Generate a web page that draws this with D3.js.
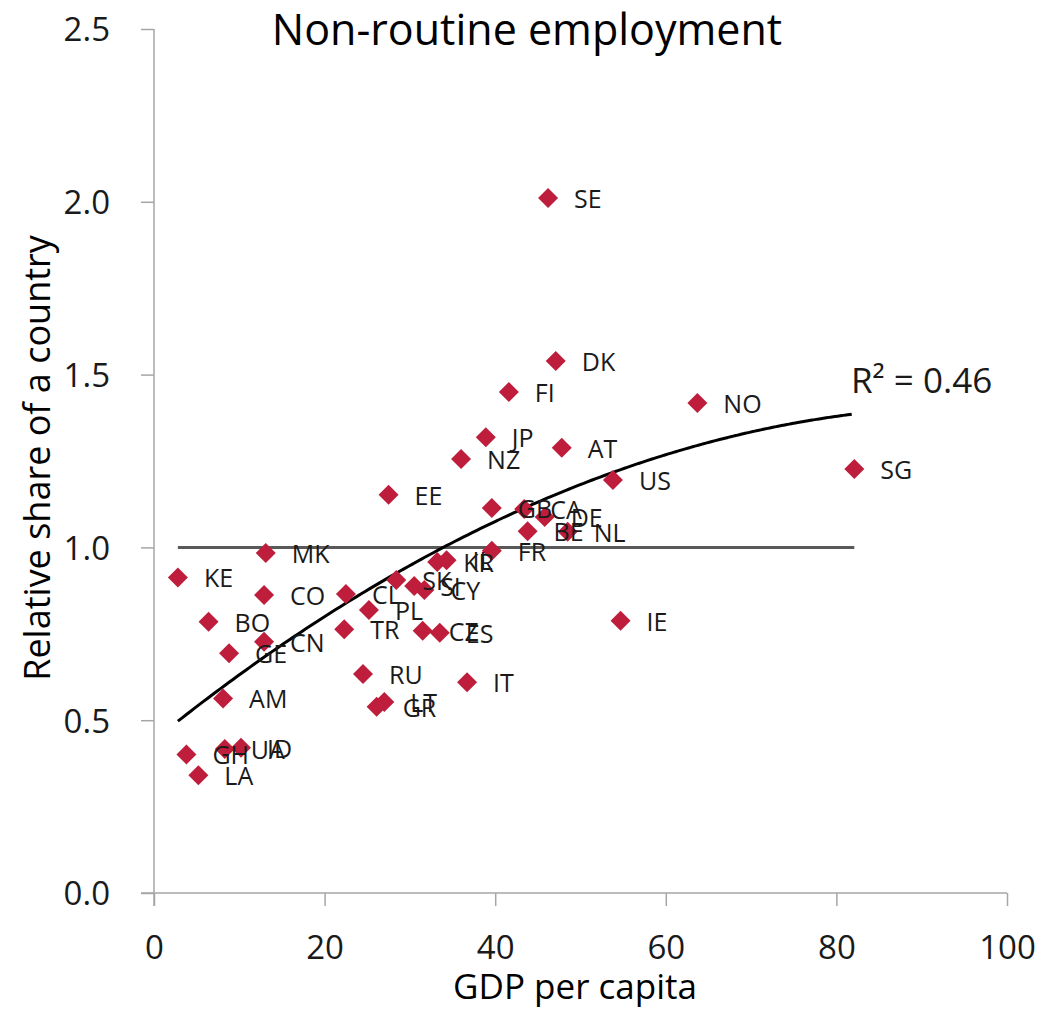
<!DOCTYPE html>
<html>
<head>
<meta charset="utf-8">
<script src="https://cdn.jsdelivr.net/npm/d3@7/dist/d3.min.js"></script>
<style>
  html, body { margin: 0; padding: 0; background: #fff; }
  svg { display: block; }
  text { font-family: "Open Sans", "Noto Sans", sans-serif; }
</style>
</head>
<body>
<svg id="chart" width="1046" height="1012"></svg>
<script>
// Country codes, GDP per capita (thousands) and relative share of non-routine employment
const countries = ["SE","DK","FI","NO","JP","AT","NZ","US","SG","EE","GB","CA","DE","BE","NL","FR",
  "MK","KE","CO","BO","CN","GE","AM","GH","UA","ID","LA",
  "KR","IL","SK","SI","CY","CL","PL","TR","CZ","ES","RU","IT","GR","LT","IE"];
const gdp = [46.2,47.1,41.6,63.7,38.9,47.8,36.0,53.8,82.1,27.5,39.6,43.4,45.8,43.8,48.5,39.6,
  13.1,2.8,12.9,6.4,12.9,8.8,8.1,3.8,8.3,10.2,5.2,
  33.2,34.3,28.4,30.5,31.7,22.5,25.2,22.3,31.5,33.5,24.5,36.7,26.1,27.0,54.7];
const share = [2.011,1.539,1.450,1.418,1.319,1.288,1.256,1.195,1.227,1.152,1.114,1.111,1.088,1.047,1.045,0.990,
  0.984,0.913,0.862,0.785,0.727,0.694,0.563,0.401,0.417,0.420,0.341,
  0.958,0.963,0.906,0.888,0.877,0.865,0.819,0.763,0.759,0.753,0.634,0.610,0.539,0.553,0.788];

const xTicks = [0, 20, 40, 60, 80, 100];
const yTicks = [0, 0.5, 1.0, 1.5, 2.0, 2.5];
const referenceLevel = [1.0];
const rSquaredLabel = "R² = 0.46";

const svg = d3.select("#chart");
const x = d3.scaleLinear().domain([0, 100]).range([154, 1007]);
const y = d3.scaleLinear().domain([0, 2.5]).range([893, 29]);

const axisColor = "#a6a6a6";
const markColor = "#be1e3c";
const textColor = "#1a1a1a";

// Axes
const xAxis = svg.append("g").attr("transform", `translate(0,${y(0)})`)
  .call(d3.axisBottom(x).tickValues(xTicks).tickSizeOuter(0).tickSize(13).tickPadding(30).tickFormat(d3.format("d")));
const yAxis = svg.append("g").attr("transform", `translate(${x(0)},0)`)
  .call(d3.axisLeft(y).tickValues(yTicks).tickSizeOuter(0).tickSize(13).tickPadding(31).tickFormat(d3.format(".1f")));
[xAxis, yAxis].forEach(g => {
  g.select(".domain").attr("stroke", axisColor).attr("stroke-width", 1.5);
  g.selectAll(".tick line").attr("stroke", axisColor).attr("stroke-width", 1.5);
  g.selectAll(".tick text").attr("fill", textColor).style("font-size", "33px")
    .style("font-family", "'Open Sans', 'Noto Sans', sans-serif");
});
// baselines run out over the outer tick marks
xAxis.select(".domain").attr("d", `M${x(0) - 13},0H${x(100)}`);
yAxis.select(".domain").attr("d", `M0,${y(2.5)}V${y(0) + 13}`);
yAxis.selectAll(".tick text").attr("dy", "0.36em");
xAxis.selectAll(".tick text").attr("dy", "0.71em");

// Reference line at 1.0 across the range of observed GDP
const xExt = d3.extent(gdp);
svg.append("line")
  .attr("x1", x(xExt[0])).attr("x2", x(xExt[1]))
  .attr("y1", y(referenceLevel[0])).attr("y2", y(referenceLevel[0]))
  .attr("stroke", "#595959").attr("stroke-width", 3);

// Quadratic least-squares trend through the points
function quadFit(xs, ys) {
  const n = xs.length;
  const s = [0,0,0,0,0], t = [0,0,0];
  for (let i = 0; i < n; i++) {
    const xi = xs[i], yi = ys[i];
    let p = 1;
    for (let k = 0; k < 5; k++) { s[k] += p; if (k < 3) t[k] += p * yi; p *= xi; }
  }
  const A = [[s[0],s[1],s[2],t[0]],[s[1],s[2],s[3],t[1]],[s[2],s[3],s[4],t[2]]];
  for (let c = 0; c < 3; c++) {
    for (let r = c + 1; r < 3; r++) {
      const f = A[r][c] / A[c][c];
      for (let k = c; k < 4; k++) A[r][k] -= f * A[c][k];
    }
  }
  const b = [0,0,0];
  for (let r = 2; r >= 0; r--) {
    let v = A[r][3];
    for (let k = r + 1; k < 3; k++) v -= A[r][k] * b[k];
    b[r] = v / A[r][r];
  }
  return b;
}
const coef = quadFit(gdp, share);
const trendX = d3.range(xExt[0], xExt[1] + 0.01, 0.5);
const trend = d3.line().x(d => x(d)).y(d => y(coef[0] + coef[1] * d + coef[2] * d * d)).curve(d3.curveMonotoneX);
svg.append("path").datum(trendX).attr("d", trend)
  .attr("fill", "none").attr("stroke", "#000").attr("stroke-width", 3);

// Points
const pts = countries.map((c, i) => ({ c, gx: gdp[i], v: share[i] }));
svg.append("g").selectAll("path").data(pts).join("path")
  .attr("d", "M0,-10L10,0L0,10L-10,0Z")
  .attr("transform", d => `translate(${x(d.gx)},${y(d.v)})`)
  .attr("fill", markColor);

// Point labels
svg.append("g").selectAll("text").data(pts).join("text")
  .attr("x", d => x(d.gx) + 26)
  .attr("y", d => y(d.v) + 10)
  .style("font-size", "25px")
  .attr("fill", textColor)
  .text(d => d.c);

// R² annotation
svg.append("text").attr("x", 851).attr("y", 393)
  .style("font-size", "35px").attr("fill", textColor).text(rSquaredLabel);

// Titles
svg.append("text").attr("x", 527).attr("y", 45).attr("text-anchor", "middle")
  .style("font-size", "43px").attr("fill", "#000").text("Non-routine employment");
svg.append("text").attr("x", 575).attr("y", 999).attr("text-anchor", "middle")
  .style("font-size", "35px").attr("fill", "#000").text("GDP per capita");
svg.append("text").attr("transform", "translate(50,458) rotate(-90)").attr("text-anchor", "middle")
  .style("font-size", "36px").attr("fill", "#000").text("Relative share of a country");
</script>
</body>
</html>
